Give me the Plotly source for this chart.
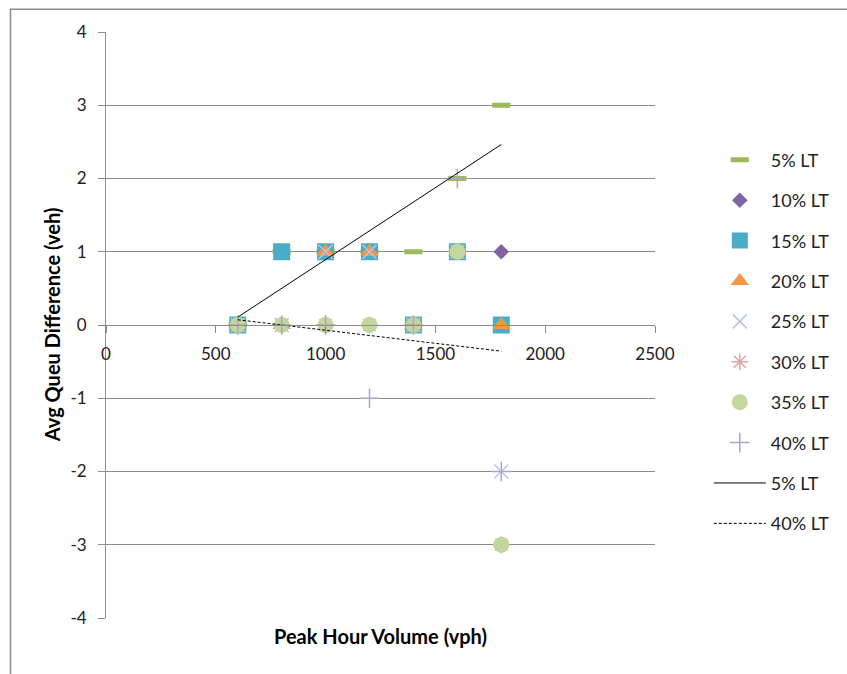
import numpy as np
import plotly.graph_objects as go

# Peak hour volumes tested (vph)
volumes = [600, 800, 1000, 1200, 1400, 1600, 1800]

# Average queue difference (veh) per left-turn percentage
lt05 = [0, 1, 1, 1, 1, 2, 3]
lt10 = [0, 0, 0, 0, 0, 1, 1]
lt15 = [0, 1, 1, 1, 0, 1, 0]
lt20 = [0, 0, 1, 1, 0, 1, 0]
lt25 = [0, 0, 1, 1, 0, 1, -2]
lt30 = [0, 0, 0, 0, 0, 1, -3]
lt35 = [0, 0, 0, 0, 0, 1, -3]
lt40 = [0, 0, 0, -1, 0, 2, -2]

series_names = ["5% LT", "10% LT", "15% LT", "20% LT", "25% LT", "30% LT", "35% LT", "40% LT"]
y_ticks = [-4, -3, -2, -1, 0, 1, 2, 3, 4]
x_ticks = [0, 500, 1000, 1500, 2000, 2500]

FONT = "Lato"
GRID = "#8c8c8c"

# symbol, size, fill colour, outline colour, outline width
styles = [
    ("line-ew", 13, "#9BBB59", "#9BBB59", 5),
    ("diamond", 12, "#8064A2", "#8064A2", 0),
    ("square", 17, "#4BACC6", "#4BACC6", 0),
    ("triangle-up", 16, "#F79646", "#F79646", 0),
    ("x-thin", 14, "#B9C4E6", "#B9C4E6", 1.5),
    ("asterisk", 14, "#DDA5A3", "#DDA5A3", 1.5),
    ("circle", 16, "#C3D69B", "#C3D69B", 0),
    ("cross-thin", 14, "#B3A2C7", "#B3A2C7", 1.5),
]

all_series = [lt05, lt10, lt15, lt20, lt25, lt30, lt35, lt40]

fig = go.Figure()
for i, (name, ys, st) in enumerate(zip(series_names, all_series, styles)):
    sym, size, fill, lc, lw = st
    fig.add_trace(go.Scatter(
        x=volumes, y=ys, mode="markers", name=name,
        legendgroup=f"g{i}",
        marker=dict(symbol=sym, size=size, color=fill,
                    line=dict(color=lc, width=lw)),
    ))

# Linear trend lines for the 5% and 40% series
for i, (name, ys, dash) in enumerate([("5% LT", lt05, "solid"), ("40% LT", lt40, "3px,2px")]):
    slope, intercept = np.polyfit(volumes, ys, 1)
    xs = [min(volumes), max(volumes)]
    fig.add_trace(go.Scatter(
        x=xs, y=[slope * v + intercept for v in xs], mode="lines", name=name,
        legendgroup=f"t{i}",
        line=dict(color="#000000", width=1, dash=dash),
    ))

fig.update_layout(
    width=847, height=674,
    margin=dict(l=106, r=189, t=32, b=56),
    paper_bgcolor="white", plot_bgcolor="white",
    font=dict(family=FONT, size=17, color="#222222"),
    showlegend=True,
    legend=dict(x=1.098, y=0.813, xanchor="left", yanchor="top",
                traceorder="grouped", tracegroupgap=14,
                itemwidth=52,
                font=dict(family=FONT, size=18, color="#222222"),
                bgcolor="rgba(0,0,0,0)"),
    xaxis=dict(range=[0, 2500], tickvals=x_ticks, ticktext=[str(v) for v in x_ticks],
               anchor="free", position=0.5,
               showgrid=False, zeroline=False,
               showline=True, linecolor=GRID, linewidth=1,
               ticks="outside", ticklen=7, tickcolor=GRID,
               ticklabelstandoff=7,
               tickfont=dict(family=FONT, size=17, color="#222222")),
    yaxis=dict(range=[-4, 4], tickvals=y_ticks, ticktext=[str(v) for v in y_ticks],
               showgrid=True, gridcolor=GRID, gridwidth=1, zeroline=False,
               showline=True, linecolor=GRID, linewidth=1,
               ticks="outside", ticklen=7, tickcolor=GRID,
               ticklabelstandoff=8,
               tickfont=dict(family=FONT, size=17, color="#222222")),
    annotations=[
        dict(text="<b>Avg Queu Difference (veh)</b>", xref="paper", yref="paper",
             x=-0.098, y=0.5, textangle=-90, showarrow=False,
             xanchor="center", yanchor="middle",
             font=dict(family=FONT, size=20, color="#000000")),
        dict(text="<b>Peak Hour Volume (vph)</b>", xref="paper", yref="paper",
             x=0.5, y=-0.031, showarrow=False,
             xanchor="center", yanchor="middle",
             font=dict(family=FONT, size=20, color="#000000")),
    ],
    shapes=[
        dict(type="rect", xref="paper", yref="paper",
             x0=-0.174, x1=1.6, y0=-0.2, y1=1.039,
             line=dict(color="#8c8c8c", width=1.5), layer="below"),
    ],
)

fig.write_html("out.html")
